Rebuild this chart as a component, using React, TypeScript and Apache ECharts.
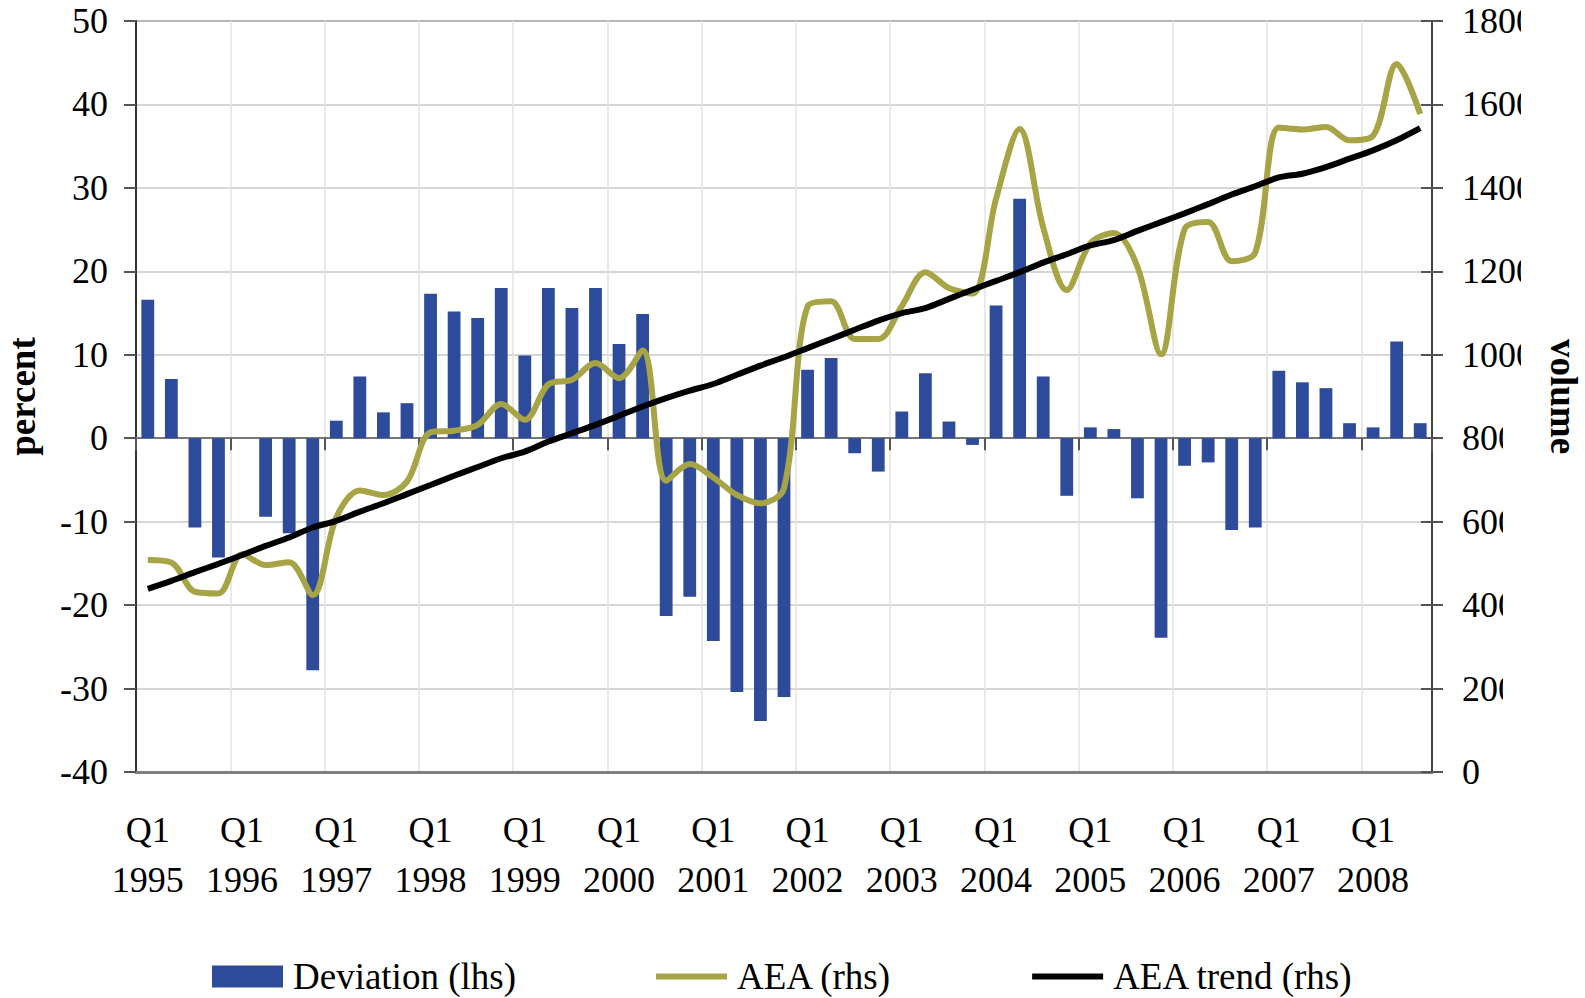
import React, { useEffect, useRef } from "react";
import * as echarts from "echarts";

const years = ["1995", "1996", "1997", "1998", "1999", "2000", "2001", "2002", "2003", "2004", "2005", "2006", "2007", "2008"];
const quarters = ["Q1", "Q2", "Q3", "Q4"];
const categories: string[] = [];
years.forEach((y) => quarters.forEach((q) => categories.push(q + " " + y)));
categories.length = 55; // Q1 1995 .. Q3 2008

// Deviation (lhs), percent
const deviation = [
  16.6, 7.1, -10.7, -14.3,
  0, -9.4, -11.4, -27.8,
  2.1, 7.4, 3.1, 4.2,
  17.3, 15.2, 14.4, 18.0,
  9.9, 18.0, 15.6, 18.0,
  11.3, 14.9, -21.3, -19.0,
  -24.3, -30.4, -33.9, -31.0,
  8.2, 9.6, -1.8, -4.0,
  3.2, 7.8, 2.0, -0.8,
  15.9, 28.7, 7.4, -6.9,
  1.3, 1.1, -7.2, -23.9,
  -3.3, -2.9, -11.0, -10.7,
  8.1, 6.7, 6.0, 1.8,
  1.3, 11.6, 1.8,
];

// AEA (rhs), volume
const aea = [
  508, 502, 432, 428,
  522, 496, 503, 424,
  610, 675, 664, 696,
  814, 818, 832, 882,
  844, 929, 940, 980,
  944, 1010, 698, 738,
  706, 664, 644, 680,
  1116, 1128, 1038, 1038,
  1117, 1198, 1160, 1147,
  1374, 1541, 1305, 1155,
  1267, 1292, 1211, 1001,
  1301, 1318, 1224, 1245,
  1545, 1540, 1546, 1514,
  1525, 1697, 1577,
];

// AEA trend (rhs), volume
const aeaTrend = [
  439, 458, 479, 499,
  520, 542, 562, 586,
  602, 624, 644, 666,
  688, 710, 731, 752,
  768, 792, 812, 832,
  854, 876, 896, 914,
  930, 952, 974, 994,
  1016, 1038, 1060, 1082,
  1100, 1112, 1134, 1156,
  1177, 1198, 1221, 1241,
  1262, 1275, 1297, 1318,
  1339, 1361, 1384, 1404,
  1425, 1434, 1450, 1470,
  1490, 1514, 1543,
];

const rightTicks = [0, 200, 400, 600, 800, 1000, 1200, 1400, 1600, 1800];

const FONT = "'Liberation Serif', 'Times New Roman', serif";
const GRID_RIGHT_X = 1432;
const RIGHT_LABEL_MARGIN = 30;
const DIGIT_W = 18;
const OLIVE = "#A6A444";

export default function App() {
  const ref = useRef<HTMLDivElement>(null);

  useEffect(() => {
    if (!ref.current) return;
    const chart = echarts.init(ref.current, null, { renderer: "svg" });
    const hiddenSymbol = { color: "rgba(0,0,0,0)", borderWidth: 0, opacity: 0 };
    const option: any = {
      animation: false,
      textStyle: { fontFamily: FONT },
      grid: {
        left: 136,
        right: 1585 - GRID_RIGHT_X,
        top: 21,
        bottom: 998 - 772,
        outerBoundsMode: "none",
        containLabel: false,
        show: true,
        borderColor: "#888",
        borderWidth: 2,
        backgroundColor: "transparent",
      },
      legend: {
        left: 212,
        top: 958,
        padding: 0,
        itemWidth: 71,
        itemHeight: 22,
        itemGap: 137,
        selectedMode: false,
        textStyle: { fontSize: 37, fontFamily: FONT, color: "#000", lineHeight: 36, padding: [0, 0, 0, 5] },
        data: [
          { name: "Deviation (lhs)", icon: "rect" },
          { name: "AEA (rhs)", itemStyle: hiddenSymbol, lineStyle: { width: 6, color: OLIVE } },
          { name: "AEA trend (rhs)", itemStyle: hiddenSymbol, lineStyle: { width: 6, color: "#000" } },
        ],
      },
      xAxis: [
        {
          type: "category",
          data: categories,
          boundaryGap: true,
          position: "bottom",
          axisLine: { show: true, onZero: false, lineStyle: { color: "#808080", width: 3 } },
          axisTick: { show: false },
          axisLabel: {
            interval: 3,
            formatter: (v: string) => v.replace(" ", "\n"),
            fontSize: 36,
            lineHeight: 50,
            margin: 33,
            color: "#000",
            fontFamily: FONT,
          },
          splitLine: { show: true, interval: 3, lineStyle: { color: "#e2e2e2", width: 1.5 } },
        },
        {
          type: "category",
          data: categories,
          boundaryGap: true,
          position: "bottom",
          axisLine: { show: true, onZero: true, onZeroAxisIndex: 0, lineStyle: { color: "#777", width: 2 } },
          axisTick: { show: true, interval: 3, length: 12, lineStyle: { color: "#555", width: 2 } },
          axisLabel: { show: false },
          splitLine: { show: false },
        },
      ],
      yAxis: [
        {
          type: "value",
          position: "left",
          min: -40,
          max: 50,
          interval: 10,
          axisLine: { show: true, onZero: false, lineStyle: { color: "#333", width: 2 } },
          axisTick: { show: true, length: 12, lineStyle: { color: "#555", width: 2 } },
          axisLabel: { fontSize: 36, fontFamily: FONT, color: "#000", margin: 28, formatter: (v: number) => String(v) },
          splitLine: { show: true, lineStyle: { color: "#c8c8c8", width: 1.5 } },
          name: "percent",
          nameLocation: "middle",
          nameGap: 95,
          nameTextStyle: { fontWeight: "bold", fontSize: 37, fontFamily: FONT, color: "#000" },
        },
        {
          type: "value",
          position: "right",
          min: 0,
          max: 1800,
          interval: 200,
          axisLine: { show: true, onZero: false, lineStyle: { color: "#444", width: 2 } },
          axisTick: { show: true, length: 11, lineStyle: { color: "#555", width: 2 } },
          axisLabel: {
            fontSize: 36,
            fontFamily: FONT,
            color: "#000",
            margin: RIGHT_LABEL_MARGIN,
            formatter: (v: number) => String(v),
          },
          splitLine: { show: false },
          name: "volume",
          nameLocation: "middle",
          nameGap: 104,
          nameRotate: -90,
          nameTextStyle: { fontWeight: "bold", fontSize: 37, fontFamily: FONT, color: "#000" },
        },
        {
          type: "value",
          position: "right",
          min: 0,
          max: 1800,
          interval: 200,
          axisLine: { show: false, onZero: false },
          axisTick: { show: true, inside: true, length: 11, lineStyle: { color: "#555", width: 2 } },
          axisLabel: { show: false },
          splitLine: { show: false },
        },
      ],
      series: [
        {
          name: "Deviation (lhs)",
          type: "bar",
          xAxisIndex: 0,
          yAxisIndex: 0,
          data: deviation,
          barWidth: 12.8,
          itemStyle: { color: "#2E4B9B" },
          silent: true,
        },
        {
          name: "AEA (rhs)",
          type: "line",
          xAxisIndex: 0,
          yAxisIndex: 1,
          data: aea,
          smooth: 0.33,
          symbol: "none",
          lineStyle: { color: OLIVE, width: 6 },
          itemStyle: { color: OLIVE },
          silent: true,
        },
        {
          name: "AEA trend (rhs)",
          type: "line",
          xAxisIndex: 0,
          yAxisIndex: 1,
          data: aeaTrend,
          smooth: 0.3,
          symbol: "none",
          lineStyle: { color: "#000", width: 6 },
          itemStyle: { color: "#000" },
          silent: true,
        },
      ],
    };
    chart.setOption(option);

    // The reference clips the right-hand tick labels inside their last digit.
    const startX = GRID_RIGHT_X + RIGHT_LABEL_MARGIN;
    const covers = rightTicks
      .filter((v) => String(v).length > 1)
      .map((v) => {
        const n = String(v).length;
        const y = chart.convertToPixel({ yAxisIndex: 1 } as any, v) as number;
        return {
          type: "rect",
          silent: true,
          z: 100,
          shape: { x: startX + (n - 1) * DIGIT_W + 5, y: y - 24, width: 22, height: 48 },
          style: { fill: "#fff" },
        };
      });
    chart.setOption({ graphic: covers });

    return () => chart.dispose();
  }, []);

  return (
    <div
      ref={ref}
      style={{ position: "absolute", left: 0, top: 0, width: 1585, height: 998, background: "#fff" }}
    />
  );
}
